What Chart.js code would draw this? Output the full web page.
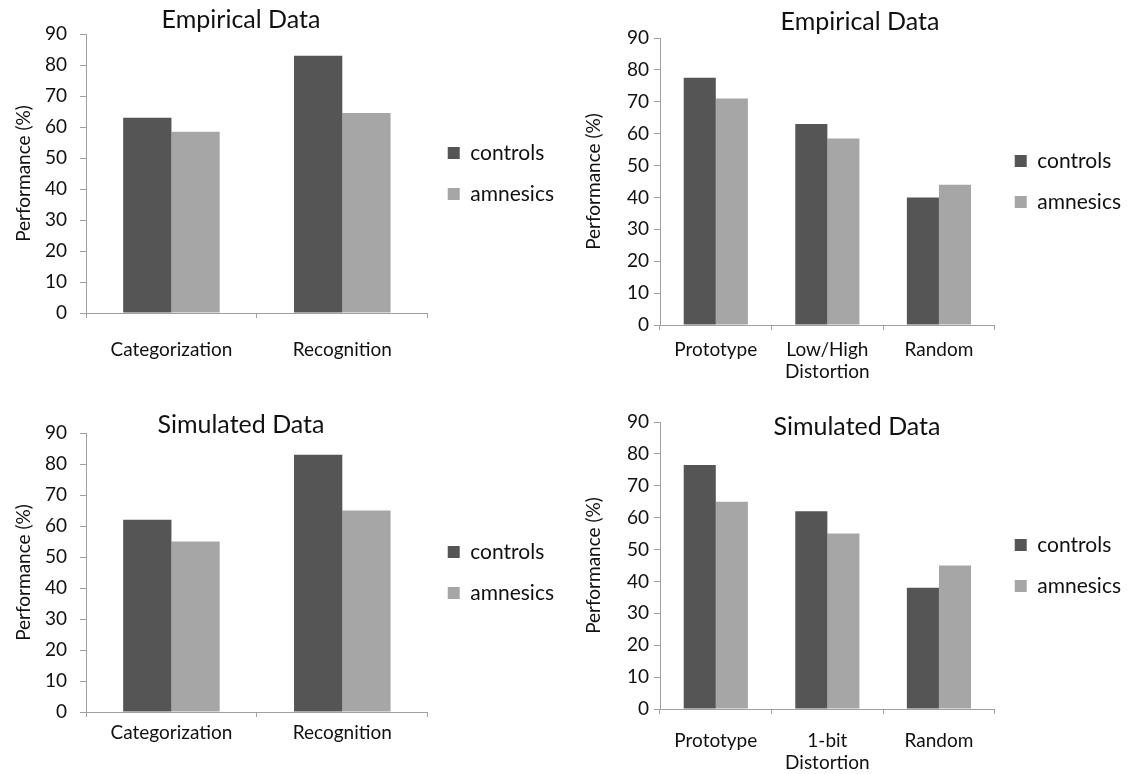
<!DOCTYPE html>
<html>
<head>
<meta charset="utf-8">
<title>Empirical vs simulated data</title>
<script src="https://cdn.jsdelivr.net/npm/chart.js@4.4.0/dist/chart.umd.min.js"></script>
<style>
  html, body { margin: 0; padding: 0; background: #fff; }
  body { width: 1138px; height: 774px; position: relative; overflow: hidden; }
  .panel { position: absolute; }
</style>
</head>
<body>
<div class="panel" style="left:0;top:0;width:570px;height:390px"><canvas id="empTask"></canvas></div>
<div class="panel" style="left:570px;top:0;width:568px;height:390px"><canvas id="empItem"></canvas></div>
<div class="panel" style="left:0;top:390px;width:570px;height:384px"><canvas id="simTask"></canvas></div>
<div class="panel" style="left:570px;top:390px;width:568px;height:384px"><canvas id="simItem"></canvas></div>

<script>
// --- data ---
const groupNames = ["controls", "amnesics"];
const taskLabels = ["Categorization", "Recognition"];
const empItemLabels = ["Prototype", ["Low/High", "Distortion"], "Random"];
const simItemLabels = ["Prototype", ["1-bit", "Distortion"], "Random"];

const empTaskControls = [63, 83];
const empTaskAmnesics = [58.5, 64.5];
const empItemControls = [77.5, 63, 40];
const empItemAmnesics = [71, 58.5, 44];

const simTaskControls = [62, 83];
const simTaskAmnesics = [55, 65];
const simItemControls = [76.5, 62, 38];
const simItemAmnesics = [65, 55, 45];

const yMin = 0, yMax = 90, yStep = 10;
const yTitle = "Performance (%)";

// --- look ---
const DARK = "#555555";
const LIGHT = "#a6a6a6";
const AXIS = "#a0a0a0";
const INK = "#111111";

Chart.defaults.font.family = "Lato, 'Open Sans', sans-serif";
Chart.defaults.color = INK;

// title drawn at a fixed spot (it overlaps the plot in some panels)
const panelTitle = {
  id: "panelTitle",
  afterDraw(chart, args, opts) {
    const ctx = chart.ctx;
    ctx.save();
    ctx.font = "25px Lato, 'Open Sans', sans-serif";
    ctx.fillStyle = INK;
    ctx.textAlign = "center";
    ctx.textBaseline = "middle";
    ctx.fillText(opts.text, opts.x, opts.y);
    ctx.restore();
  }
};

function makePanel(id, p) {
  return new Chart(document.getElementById(id), {
    type: "bar",
    data: {
      labels: p.labels,
      datasets: [
        { label: groupNames[0], data: p.controls, backgroundColor: DARK },
        { label: groupNames[1], data: p.amnesics, backgroundColor: LIGHT }
      ]
    },
    options: {
      responsive: true,
      maintainAspectRatio: false,
      animation: false,
      categoryPercentage: p.catPct,
      barPercentage: 1.0,
      layout: { padding: { top: p.padTop, right: p.padRight, bottom: p.padBottom, left: 0 } },
      scales: {
        x: {
          grid: { drawOnChartArea: false, tickLength: 5, color: AXIS, offset: true },
          border: { color: AXIS },
          ticks: { padding: p.xPad, font: { size: 19, lineHeight: 1.15 }, maxRotation: 0, autoSkip: false, color: INK },
          afterFit(scale) { scale.height = 60; }
        },
        y: {
          min: yMin,
          max: yMax,
          ticks: { stepSize: yStep, padding: p.yPad, font: { size: 19 }, color: INK },
          grid: { drawOnChartArea: false, tickLength: 6, color: AXIS },
          border: { color: AXIS },
          title: { display: true, text: yTitle, font: { size: 19 }, color: INK, padding: { top: p.yTitlePad, bottom: 0 } },
          afterFit(scale) { scale.width = p.yWidth; }
        }
      },
      plugins: {
        legend: {
          position: "right",
          fullSize: false,
          labels: { boxWidth: 12, boxHeight: 12, padding: 20, font: { size: 21 }, color: INK }
        },
        tooltip: { enabled: false },
        panelTitle: { text: p.title, x: p.titleX, y: p.titleY }
      }
    },
    plugins: [panelTitle]
  });
}

makePanel("empTask", {
  labels: taskLabels, controls: empTaskControls, amnesics: empTaskAmnesics,
  title: "Empirical Data", titleX: 241, titleY: 20,
  catPct: 0.565, padTop: 34, padRight: 6, padBottom: 17,
  yWidth: 86, yPad: 13, xPad: 21, yTitlePad: 12
});

makePanel("empItem", {
  labels: empItemLabels, controls: empItemControls, amnesics: empItemAmnesics,
  title: "Empirical Data", titleX: 290, titleY: 22,
  catPct: 0.575, padTop: 38, padRight: 7, padBottom: 5,
  yWidth: 90, yPad: 5, xPad: 9, yTitlePad: 12
});

makePanel("simTask", {
  labels: taskLabels, controls: simTaskControls, amnesics: simTaskAmnesics,
  title: "Simulated Data", titleX: 241, titleY: 35,
  catPct: 0.565, padTop: 43, padRight: 6, padBottom: 2,
  yWidth: 86, yPad: 13, xPad: 5, yTitlePad: 12
});

makePanel("simItem", {
  labels: simItemLabels, controls: simItemControls, amnesics: simItemAmnesics,
  title: "Simulated Data", titleX: 287, titleY: 37,
  catPct: 0.575, padTop: 32, padRight: 7, padBottom: 5,
  yWidth: 90, yPad: 5, xPad: 16, yTitlePad: 12
});
</script>
</body>
</html>
